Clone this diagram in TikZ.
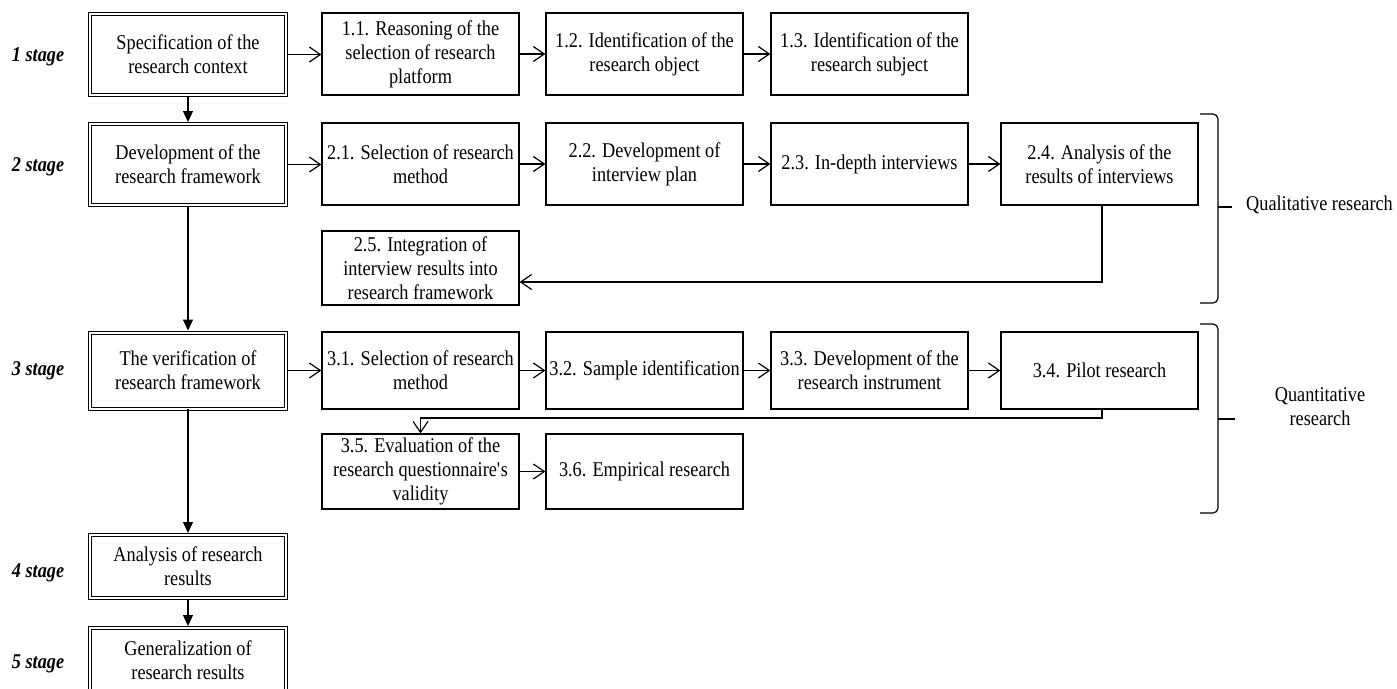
\documentclass[tikz,border=0pt]{standalone}
\usepackage{fontspec}
\setmainfont{Liberation Serif}[FakeStretch=0.87]
\usetikzlibrary{arrows.meta,calc}
\begin{document}
\begin{tikzpicture}[x=1pt,y=-1pt,
  every node/.style={font=\fontsize{21}{24}\selectfont, align=center, inner sep=0pt},
  mainbox/.style={draw, double, line width=1pt, double distance=2pt, minimum width=196pt},
  subbox/.style={draw, line width=1.2pt, minimum width=197pt},
  stagelbl/.style={font=\fontsize{21}{24}\selectfont\bfseries\itshape},
  harr/.style={-{Straight Barb[length=11pt,width=15pt,line width=1.2pt]}, line width=1.2pt},
  varr/.style={-{Triangle[length=11pt,width=10pt]}, line width=1.3pt, shorten >=1.5pt},
  brc/.style={line width=1.2pt, rounded corners=5pt}]
\useasboundingbox (0,0) rectangle (1397,688);
\fill[white] (0,0) rectangle (1397,688);
\clip (0,0) rectangle (1397,688);

% stage labels
\node[stagelbl] (l1) at (38,57) {1 stage};
\node[stagelbl] (l2) at (38,167) {2 stage};
\node[stagelbl] (l3) at (38,371) {3 stage};
\node[stagelbl] (l4) at (38,573) {4 stage};
\node[stagelbl] (l5) at (38,664) {5 stage};

% main stage boxes
\node[mainbox, minimum height=81pt] (s1) at (188,54.5) {Specification of the\\research context};
\node[mainbox, minimum height=81pt] (s2) at (188,164.5) {Development of the\\research framework};
\node[mainbox, minimum height=76pt] (s3) at (188,370.5) {The verification of\\research framework};
\node[mainbox, minimum height=63pt] (s4) at (188,566.5) {Analysis of research\\results};
\node[mainbox, minimum height=64pt] (s5) at (188,660) {Generalization of\\research results};

% row 1
\node[subbox, minimum height=82pt] (n11) at (420.5,54) {1.1. Reasoning of the\\selection of research\\platform};
\node[subbox, minimum height=82pt] (n12) at (644.5,54) {1.2. Identification of the\\research object};
\node[subbox, minimum height=82pt] (n13) at (869.5,54) {1.3. Identification of the\\research subject};

% row 2
\node[subbox, minimum height=82pt] (n21) at (420.5,164) {2.1. Selection of research\\method};
\node[subbox, minimum height=82pt] (n22) at (644.5,164) {2.2. Development of\\interview plan};
\node[subbox, minimum height=82pt] (n23) at (869.5,164) {2.3. In-depth interviews};
\node[subbox, minimum height=82pt] (n24) at (1099.5,164) {2.4. Analysis of the\\results of interviews};
\node[subbox, minimum height=74pt] (n25) at (420.5,268) {2.5. Integration of\\interview results into\\research framework};

% row 3
\node[subbox, minimum height=77pt] (n31) at (420.5,370.5) {3.1. Selection of research\\method};
\node[subbox, minimum height=77pt] (n32) at (644.5,370.5) {3.2. Sample identification};
\node[subbox, minimum height=77pt] (n33) at (869.5,370.5) {3.3. Development of the\\research instrument};
\node[subbox, minimum height=77pt] (n34) at (1099.5,370.5) {3.4. Pilot research};
\node[subbox, minimum height=75pt] (n35) at (420.5,471.5) {3.5. Evaluation of the\\research questionnaire\textquotesingle s\\validity};
\node[subbox, minimum height=75pt] (n36) at (644.5,471.5) {3.6. Empirical research};

% vertical arrows
\draw[varr] (s1.south) -- (s2.north);
\draw[varr] (s2.south) -- (s3.north);
\draw[varr] (s3.south) -- (s4.north);
\draw[varr] (s4.south) -- (s5.north);

% horizontal arrows
\draw[harr] (s1.east) -- (s1.east -| n11.west);
\draw[harr] (n11.east) -- (n12.west);
\draw[harr] (n12.east) -- (n13.west);
\draw[harr] (s2.east) -- (s2.east -| n21.west);
\draw[harr] (n21.east) -- (n22.west);
\draw[harr] (n22.east) -- (n23.west);
\draw[harr] (n23.east) -- (n24.west);
\draw[harr] (s3.east) -- (n31.west);
\draw[harr] (n31.east) -- (n32.west);
\draw[harr] (n32.east) -- (n33.west);
\draw[harr] (n33.east) -- (n34.west);
\draw[harr] (n35.east) -- (n36.west);

% return connectors
\coordinate (c1) at (1102,282);
\draw[harr] (n24.south -| c1) -- (c1) -- (n25.east |- c1);
\coordinate (c2) at (1102,418);
\draw[harr] (n34.south -| c2) -- (c2) -| (n35.north);

% braces
\draw[brc] (1200,114) -- (1218,114) -- (1218,207) -- (1218,303) -- (1200,303);
\draw[line width=1.2pt] (1217.5,207) -- (1232,207);
\draw[brc] (1200,324) -- (1218,324) -- (1218,419) -- (1218,513) -- (1200,513);
\draw[line width=1.2pt] (1217.5,419) -- (1235,419);

\node[anchor=west] (ql) at (1246,205) {Qualitative research};
\node (qn) at (1320,407) {Quantitative\\research};
\end{tikzpicture}
\end{document}
